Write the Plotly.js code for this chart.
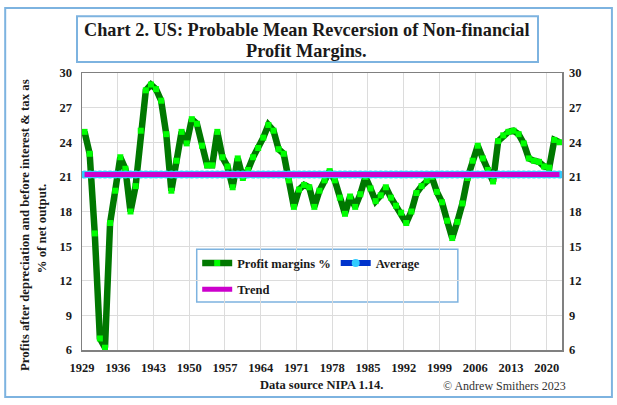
<!DOCTYPE html>
<html>
<head>
<meta charset="utf-8">
<script src="https://cdn.plot.ly/plotly-3.0.1.min.js"></script>
<style>
html,body{margin:0;padding:0;background:#fff;}
#chart{width:617px;height:405px;}
</style>
</head>
<body>
<div id="chart"></div>
<script>
// ---- data ----
const firstYear = 1929;
const profitMargins = [
  24.9, 23.0, 16.1, 7.0, 6.2, 17.0, 19.8, 22.7, 21.7, 18.0,   // 1929-1938
  20.2, 25.0, 28.5, 29.0, 28.6, 27.6, 24.7, 19.8, 22.4, 24.9, // 1939-1948
  23.9, 26.0, 25.6, 23.7, 22.0, 22.0, 24.9, 22.7, 21.9, 20.1, // 1949-1958
  22.6, 20.9, 21.6, 22.7, 23.5, 24.4, 25.5, 25.0, 23.4, 23.0, // 1959-1968
  20.7, 18.4, 19.9, 20.3, 20.1, 18.4, 19.8, 20.7, 21.5, 20.7, // 1969-1978
  19.2, 17.8, 19.3, 18.4, 19.5, 21.0, 20.0, 18.9, 19.4, 20.1, // 1979-1988
  19.2, 18.5, 17.9, 17.0, 18.0, 19.6, 20.2, 20.7, 21.0, 19.7, // 1989-1998
  18.8, 17.2, 15.7, 17.1, 18.7, 20.9, 22.4, 23.7, 22.6, 21.6, // 1999-2008
  20.6, 24.1, 24.6, 24.9, 25.0, 24.7, 23.9, 22.6, 22.4, 22.3, // 2009-2018
  21.9, 21.8, 24.2, 24.0                                      // 2019-2022
];
const averageValue = 21.2;
const trendYears = [1929, 2022];
const trendValues = [21.2, 21.2];
const tickYears = [1929, 1936, 1943, 1950, 1957, 1964, 1971, 1978, 1985, 1992, 1999, 2006, 2013, 2020];
const yTicks = [6, 9, 12, 15, 18, 21, 24, 27, 30];
const seriesNames = ['Profit margins %', 'Average', 'Trend'];
const titleLines = ['Chart 2. US: Probable Mean Revcersion of Non-financial', 'Profit Margins.'];
const yTitleLines = ['Profits after depreciation and before interest &amp; tax as', '% of net output.'];

const years = profitMargins.map((_, i) => firstYear + i);
const averages = years.map(() => averageValue);

const serif = 'Liberation Serif, Times New Roman, serif';
const dark = '#1a1a1a';
const boxBlue = '#7DB3E0';

const traces = [
  {
    x: years, y: profitMargins, name: seriesNames[0], type: 'scatter', mode: 'lines+markers',
    line: {color: '#007800', width: 6.5},
    marker: {color: '#00FF00', symbol: 'square', size: 6, line: {width: 0}},
    legend: 'legend', xaxis: 'x', yaxis: 'y'
  },
  {
    x: years, y: averages, name: seriesNames[1], type: 'scatter', mode: 'lines+markers',
    line: {color: '#0033CC', width: 6},
    marker: {color: '#33CCFF', symbol: 'circle', size: 8, line: {width: 0}},
    legend: 'legend', xaxis: 'x', yaxis: 'y2'
  },
  {
    x: trendYears, y: trendValues, name: seriesNames[2], type: 'scatter', mode: 'lines',
    line: {color: '#CC00CC', width: 5},
    legend: 'legend2', xaxis: 'x', yaxis: 'y2'
  }
];

const xRange = [years[0] - 0.5, years[years.length - 1] + 0.5];
const yRange = [yTicks[0], yTicks[yTicks.length - 1]];
const tickFont = {family: serif, size: 12.5, color: dark, weight: 'bold'};

const yaxisCommon = {
  range: yRange, tickvals: yTicks, ticktext: yTicks.map(String),
  tickfont: tickFont,
  ticks: '', ticklabelstandoff: 6, zeroline: false, fixedrange: true
};

const layout = {
  width: 617, height: 405,
  margin: {l: 82, r: 55, t: 73, b: 55},
  paper_bgcolor: '#ffffff', plot_bgcolor: '#ffffff',
  showlegend: true,
  xaxis: {
    range: xRange,
    tickvals: tickYears.map(y => y - 0.5),
    ticktext: tickYears.map(String),
    ticklabelshift: 2.5,
    ticklabelstandoff: 5,
    ticks: '',
    tickfont: tickFont,
    showgrid: true, gridcolor: '#DCDCDC', gridwidth: 1,
    showline: true, mirror: true, linecolor: '#808080', linewidth: 1.5,
    zeroline: false
  },
  yaxis: Object.assign({}, yaxisCommon, {
    side: 'left', showgrid: true, gridcolor: '#DCDCDC', gridwidth: 1,
    showline: true, mirror: true, linecolor: '#808080', linewidth: 1.5
  }),
  yaxis2: Object.assign({}, yaxisCommon, {
    side: 'right', overlaying: 'y', showgrid: false, showline: false
  }),
  legend: {
    orientation: 'h', x: 0.24, y: 0.367, xanchor: 'left', yanchor: 'top',
    bgcolor: 'rgba(0,0,0,0)', borderwidth: 0, itemwidth: 30,
    font: {family: serif, size: 12.5, color: dark, weight: 'bold'},
    tracegroupgap: 0
  },
  legend2: {
    orientation: 'h', x: 0.24, y: 0.272, xanchor: 'left', yanchor: 'top',
    bgcolor: 'rgba(0,0,0,0)', borderwidth: 0, itemwidth: 30,
    font: {family: serif, size: 12.5, color: dark, weight: 'bold'}
  },
  shapes: [
    {type: 'rect', xref: 'paper', yref: 'paper', x0: -0.160, x1: 1.104, y0: -0.170, y1: 1.235,
     line: {color: boxBlue, width: 2}, fillcolor: 'rgba(0,0,0,0)', layer: 'below'},
    {type: 'rect', xref: 'paper', yref: 'paper', x0: -0.0104, x1: 0.95, y0: 1.04, y1: 1.205,
     line: {color: boxBlue, width: 2}, fillcolor: '#ffffff', layer: 'above'},
    {type: 'rect', xref: 'paper', yref: 'paper', x0: 0.239, x1: 0.783, y0: 0.173, y1: 0.364,
     line: {color: boxBlue, width: 1.5}, fillcolor: '#ffffff', layer: 'between'}
  ],
  annotations: [
    {text: titleLines[0], xref: 'paper', yref: 'paper', x: 0.468, y: 1.155,
     xanchor: 'center', yanchor: 'middle', showarrow: false,
     font: {family: serif, size: 18.3, color: dark, weight: 'bold'}},
    {text: titleLines[1], xref: 'paper', yref: 'paper', x: 0.468, y: 1.079,
     xanchor: 'center', yanchor: 'middle', showarrow: false,
     font: {family: serif, size: 18.3, color: dark, weight: 'bold'}},
    {text: yTitleLines[0], xref: 'paper', yref: 'paper', x: -0.119, y: 0.451,
     xanchor: 'center', yanchor: 'middle', textangle: -90, showarrow: false,
     font: {family: serif, size: 12.8, color: dark, weight: 'bold'}},
    {text: yTitleLines[1], xref: 'paper', yref: 'paper', x: -0.083, y: 0.44,
     xanchor: 'center', yanchor: 'middle', textangle: -90, showarrow: false,
     font: {family: serif, size: 12.8, color: dark, weight: 'bold'}},
    {text: 'Data source NIPA 1.14.', xref: 'paper', yref: 'paper', x: 0.5, y: -0.126,
     xanchor: 'center', yanchor: 'middle', showarrow: false,
     font: {family: serif, size: 12.5, color: dark, weight: 'bold'}},
    {text: '© Andrew Smithers 2023', xref: 'paper', yref: 'paper', x: 0.88, y: -0.13,
     xanchor: 'center', yanchor: 'middle', showarrow: false,
     font: {family: serif, size: 12, color: '#333333'}}
  ]
};

Plotly.newPlot('chart', traces, layout, {displayModeBar: false, staticPlot: true});
</script>
</body>
</html>
